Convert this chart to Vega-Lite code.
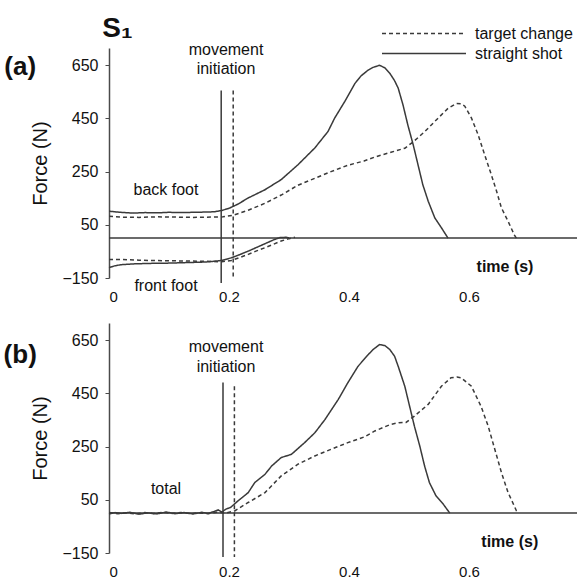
{
  "$schema": "https://vega.github.io/schema/vega-lite/v6.json",
  "padding": {"left": 3, "top": 14, "right": 0, "bottom": 0},
  "bounds": "flush",
  "spacing": 45,
  "config": {
    "font": "Liberation Sans",
    "view": {"stroke": null},
    "axis": {"domainColor": "#4a4a4a", "domainWidth": 1.5, "tickColor": "#4a4a4a", "labelColor": "#111", "titleColor": "#111", "labelFont": "Liberation Sans", "titleFont": "Liberation Sans", "grid": false}
  },
  "resolve": {"scale": {"strokeDash": "independent"}, "legend": {"strokeDash": "independent"}},
  "datasets": {
    "curves_a": [
      {"part": "back", "series": "straight shot", "t": 0, "f": 101},
      {"part": "back", "series": "straight shot", "t": 0.02, "f": 97},
      {"part": "back", "series": "straight shot", "t": 0.04, "f": 94},
      {"part": "back", "series": "straight shot", "t": 0.06, "f": 96},
      {"part": "back", "series": "straight shot", "t": 0.08, "f": 95},
      {"part": "back", "series": "straight shot", "t": 0.1, "f": 97},
      {"part": "back", "series": "straight shot", "t": 0.12, "f": 96},
      {"part": "back", "series": "straight shot", "t": 0.14, "f": 97},
      {"part": "back", "series": "straight shot", "t": 0.16, "f": 98},
      {"part": "back", "series": "straight shot", "t": 0.175, "f": 99},
      {"part": "back", "series": "straight shot", "t": 0.188, "f": 104},
      {"part": "back", "series": "straight shot", "t": 0.2, "f": 112},
      {"part": "back", "series": "straight shot", "t": 0.215, "f": 128},
      {"part": "back", "series": "straight shot", "t": 0.232, "f": 151},
      {"part": "back", "series": "straight shot", "t": 0.26, "f": 182},
      {"part": "back", "series": "straight shot", "t": 0.287, "f": 220},
      {"part": "back", "series": "straight shot", "t": 0.315, "f": 276},
      {"part": "back", "series": "straight shot", "t": 0.343, "f": 339},
      {"part": "back", "series": "straight shot", "t": 0.365, "f": 401},
      {"part": "back", "series": "straight shot", "t": 0.376, "f": 451},
      {"part": "back", "series": "straight shot", "t": 0.393, "f": 514},
      {"part": "back", "series": "straight shot", "t": 0.41, "f": 582},
      {"part": "back", "series": "straight shot", "t": 0.42, "f": 610},
      {"part": "back", "series": "straight shot", "t": 0.432, "f": 632},
      {"part": "back", "series": "straight shot", "t": 0.44, "f": 642},
      {"part": "back", "series": "straight shot", "t": 0.451, "f": 650},
      {"part": "back", "series": "straight shot", "t": 0.46, "f": 640},
      {"part": "back", "series": "straight shot", "t": 0.468, "f": 620},
      {"part": "back", "series": "straight shot", "t": 0.476, "f": 592},
      {"part": "back", "series": "straight shot", "t": 0.482, "f": 564},
      {"part": "back", "series": "straight shot", "t": 0.49, "f": 501},
      {"part": "back", "series": "straight shot", "t": 0.498, "f": 426},
      {"part": "back", "series": "straight shot", "t": 0.507, "f": 351},
      {"part": "back", "series": "straight shot", "t": 0.515, "f": 276},
      {"part": "back", "series": "straight shot", "t": 0.523, "f": 201},
      {"part": "back", "series": "straight shot", "t": 0.532, "f": 139},
      {"part": "back", "series": "straight shot", "t": 0.543, "f": 76},
      {"part": "back", "series": "straight shot", "t": 0.554, "f": 39},
      {"part": "back", "series": "straight shot", "t": 0.565, "f": 0},
      {"part": "back", "series": "target change", "t": 0, "f": 82},
      {"part": "back", "series": "target change", "t": 0.02, "f": 79},
      {"part": "back", "series": "target change", "t": 0.05, "f": 78},
      {"part": "back", "series": "target change", "t": 0.08, "f": 80},
      {"part": "back", "series": "target change", "t": 0.11, "f": 79},
      {"part": "back", "series": "target change", "t": 0.14, "f": 78},
      {"part": "back", "series": "target change", "t": 0.17, "f": 79},
      {"part": "back", "series": "target change", "t": 0.19, "f": 80},
      {"part": "back", "series": "target change", "t": 0.207, "f": 86},
      {"part": "back", "series": "target change", "t": 0.232, "f": 105},
      {"part": "back", "series": "target change", "t": 0.26, "f": 131},
      {"part": "back", "series": "target change", "t": 0.287, "f": 162},
      {"part": "back", "series": "target change", "t": 0.315, "f": 199},
      {"part": "back", "series": "target change", "t": 0.343, "f": 225},
      {"part": "back", "series": "target change", "t": 0.37, "f": 250},
      {"part": "back", "series": "target change", "t": 0.398, "f": 274},
      {"part": "back", "series": "target change", "t": 0.425, "f": 290},
      {"part": "back", "series": "target change", "t": 0.443, "f": 305},
      {"part": "back", "series": "target change", "t": 0.47, "f": 323},
      {"part": "back", "series": "target change", "t": 0.493, "f": 338},
      {"part": "back", "series": "target change", "t": 0.507, "f": 362},
      {"part": "back", "series": "target change", "t": 0.526, "f": 400},
      {"part": "back", "series": "target change", "t": 0.548, "f": 450},
      {"part": "back", "series": "target change", "t": 0.565, "f": 488},
      {"part": "back", "series": "target change", "t": 0.579, "f": 506},
      {"part": "back", "series": "target change", "t": 0.587, "f": 505},
      {"part": "back", "series": "target change", "t": 0.593, "f": 496},
      {"part": "back", "series": "target change", "t": 0.604, "f": 452},
      {"part": "back", "series": "target change", "t": 0.615, "f": 390},
      {"part": "back", "series": "target change", "t": 0.626, "f": 314},
      {"part": "back", "series": "target change", "t": 0.637, "f": 240},
      {"part": "back", "series": "target change", "t": 0.646, "f": 176},
      {"part": "back", "series": "target change", "t": 0.654, "f": 114},
      {"part": "back", "series": "target change", "t": 0.665, "f": 64},
      {"part": "back", "series": "target change", "t": 0.676, "f": 10},
      {"part": "back", "series": "target change", "t": 0.679, "f": 0},
      {"part": "front", "series": "straight shot", "t": 0, "f": -111},
      {"part": "front", "series": "straight shot", "t": 0.01, "f": -104},
      {"part": "front", "series": "straight shot", "t": 0.02, "f": -100},
      {"part": "front", "series": "straight shot", "t": 0.04, "f": -97},
      {"part": "front", "series": "straight shot", "t": 0.07, "f": -95},
      {"part": "front", "series": "straight shot", "t": 0.1, "f": -94},
      {"part": "front", "series": "straight shot", "t": 0.13, "f": -92},
      {"part": "front", "series": "straight shot", "t": 0.16, "f": -90},
      {"part": "front", "series": "straight shot", "t": 0.175, "f": -87},
      {"part": "front", "series": "straight shot", "t": 0.188, "f": -84},
      {"part": "front", "series": "straight shot", "t": 0.204, "f": -74},
      {"part": "front", "series": "straight shot", "t": 0.218, "f": -62},
      {"part": "front", "series": "straight shot", "t": 0.232, "f": -49},
      {"part": "front", "series": "straight shot", "t": 0.246, "f": -35},
      {"part": "front", "series": "straight shot", "t": 0.26, "f": -21},
      {"part": "front", "series": "straight shot", "t": 0.276, "f": -5},
      {"part": "front", "series": "straight shot", "t": 0.285, "f": 2},
      {"part": "front", "series": "straight shot", "t": 0.295, "f": 3},
      {"part": "front", "series": "straight shot", "t": 0.3, "f": 1},
      {"part": "front", "series": "target change", "t": 0, "f": -80},
      {"part": "front", "series": "target change", "t": 0.02, "f": -80},
      {"part": "front", "series": "target change", "t": 0.05, "f": -83},
      {"part": "front", "series": "target change", "t": 0.09, "f": -85},
      {"part": "front", "series": "target change", "t": 0.13, "f": -86},
      {"part": "front", "series": "target change", "t": 0.16, "f": -87},
      {"part": "front", "series": "target change", "t": 0.188, "f": -89},
      {"part": "front", "series": "target change", "t": 0.204, "f": -84},
      {"part": "front", "series": "target change", "t": 0.218, "f": -73},
      {"part": "front", "series": "target change", "t": 0.232, "f": -61},
      {"part": "front", "series": "target change", "t": 0.246, "f": -48},
      {"part": "front", "series": "target change", "t": 0.26, "f": -36},
      {"part": "front", "series": "target change", "t": 0.273, "f": -24},
      {"part": "front", "series": "target change", "t": 0.287, "f": -11},
      {"part": "front", "series": "target change", "t": 0.3, "f": -2},
      {"part": "front", "series": "target change", "t": 0.31, "f": 3}
    ],
    "curves_b": [
      {"part": "total", "series": "straight shot", "t": 0, "f": -3},
      {"part": "total", "series": "straight shot", "t": 0.01, "f": 2},
      {"part": "total", "series": "straight shot", "t": 0.02, "f": -1},
      {"part": "total", "series": "straight shot", "t": 0.035, "f": 3},
      {"part": "total", "series": "straight shot", "t": 0.05, "f": -4},
      {"part": "total", "series": "straight shot", "t": 0.065, "f": 1},
      {"part": "total", "series": "straight shot", "t": 0.08, "f": -3},
      {"part": "total", "series": "straight shot", "t": 0.095, "f": 4},
      {"part": "total", "series": "straight shot", "t": 0.11, "f": -2},
      {"part": "total", "series": "straight shot", "t": 0.125, "f": 2},
      {"part": "total", "series": "straight shot", "t": 0.14, "f": -3},
      {"part": "total", "series": "straight shot", "t": 0.155, "f": 3},
      {"part": "total", "series": "straight shot", "t": 0.165, "f": -1},
      {"part": "total", "series": "straight shot", "t": 0.175, "f": 6},
      {"part": "total", "series": "straight shot", "t": 0.182, "f": 12},
      {"part": "total", "series": "straight shot", "t": 0.188, "f": 4},
      {"part": "total", "series": "straight shot", "t": 0.195, "f": 15},
      {"part": "total", "series": "straight shot", "t": 0.203, "f": 22},
      {"part": "total", "series": "straight shot", "t": 0.215, "f": 46},
      {"part": "total", "series": "straight shot", "t": 0.232, "f": 77},
      {"part": "total", "series": "straight shot", "t": 0.243, "f": 115},
      {"part": "total", "series": "straight shot", "t": 0.26, "f": 146},
      {"part": "total", "series": "straight shot", "t": 0.271, "f": 177},
      {"part": "total", "series": "straight shot", "t": 0.287, "f": 209},
      {"part": "total", "series": "straight shot", "t": 0.304, "f": 221},
      {"part": "total", "series": "straight shot", "t": 0.326, "f": 265},
      {"part": "total", "series": "straight shot", "t": 0.343, "f": 302},
      {"part": "total", "series": "straight shot", "t": 0.36, "f": 352},
      {"part": "total", "series": "straight shot", "t": 0.382, "f": 427},
      {"part": "total", "series": "straight shot", "t": 0.398, "f": 490},
      {"part": "total", "series": "straight shot", "t": 0.415, "f": 552},
      {"part": "total", "series": "straight shot", "t": 0.432, "f": 596},
      {"part": "total", "series": "straight shot", "t": 0.44, "f": 615},
      {"part": "total", "series": "straight shot", "t": 0.451, "f": 634},
      {"part": "total", "series": "straight shot", "t": 0.46, "f": 630},
      {"part": "total", "series": "straight shot", "t": 0.468, "f": 615},
      {"part": "total", "series": "straight shot", "t": 0.476, "f": 590},
      {"part": "total", "series": "straight shot", "t": 0.482, "f": 552},
      {"part": "total", "series": "straight shot", "t": 0.493, "f": 477},
      {"part": "total", "series": "straight shot", "t": 0.501, "f": 402},
      {"part": "total", "series": "straight shot", "t": 0.509, "f": 327},
      {"part": "total", "series": "straight shot", "t": 0.518, "f": 252},
      {"part": "total", "series": "straight shot", "t": 0.526, "f": 177},
      {"part": "total", "series": "straight shot", "t": 0.534, "f": 115},
      {"part": "total", "series": "straight shot", "t": 0.545, "f": 65},
      {"part": "total", "series": "straight shot", "t": 0.557, "f": 34},
      {"part": "total", "series": "straight shot", "t": 0.568, "f": 0},
      {"part": "total", "series": "target change", "t": 0, "f": 2},
      {"part": "total", "series": "target change", "t": 0.015, "f": -2},
      {"part": "total", "series": "target change", "t": 0.03, "f": 1},
      {"part": "total", "series": "target change", "t": 0.045, "f": -3},
      {"part": "total", "series": "target change", "t": 0.06, "f": 2},
      {"part": "total", "series": "target change", "t": 0.075, "f": -2},
      {"part": "total", "series": "target change", "t": 0.09, "f": 3},
      {"part": "total", "series": "target change", "t": 0.105, "f": -1},
      {"part": "total", "series": "target change", "t": 0.12, "f": 2},
      {"part": "total", "series": "target change", "t": 0.135, "f": -2},
      {"part": "total", "series": "target change", "t": 0.15, "f": 1},
      {"part": "total", "series": "target change", "t": 0.165, "f": -2},
      {"part": "total", "series": "target change", "t": 0.18, "f": 3},
      {"part": "total", "series": "target change", "t": 0.195, "f": 0},
      {"part": "total", "series": "target change", "t": 0.21, "f": 9},
      {"part": "total", "series": "target change", "t": 0.232, "f": 40},
      {"part": "total", "series": "target change", "t": 0.26, "f": 77},
      {"part": "total", "series": "target change", "t": 0.287, "f": 140},
      {"part": "total", "series": "target change", "t": 0.315, "f": 184},
      {"part": "total", "series": "target change", "t": 0.343, "f": 215},
      {"part": "total", "series": "target change", "t": 0.37, "f": 240},
      {"part": "total", "series": "target change", "t": 0.398, "f": 265},
      {"part": "total", "series": "target change", "t": 0.426, "f": 287},
      {"part": "total", "series": "target change", "t": 0.443, "f": 309},
      {"part": "total", "series": "target change", "t": 0.47, "f": 334},
      {"part": "total", "series": "target change", "t": 0.483, "f": 340},
      {"part": "total", "series": "target change", "t": 0.495, "f": 341},
      {"part": "total", "series": "target change", "t": 0.509, "f": 365},
      {"part": "total", "series": "target change", "t": 0.532, "f": 409},
      {"part": "total", "series": "target change", "t": 0.554, "f": 477},
      {"part": "total", "series": "target change", "t": 0.57, "f": 509},
      {"part": "total", "series": "target change", "t": 0.58, "f": 512},
      {"part": "total", "series": "target change", "t": 0.587, "f": 509},
      {"part": "total", "series": "target change", "t": 0.604, "f": 477},
      {"part": "total", "series": "target change", "t": 0.62, "f": 402},
      {"part": "total", "series": "target change", "t": 0.632, "f": 327},
      {"part": "total", "series": "target change", "t": 0.643, "f": 240},
      {"part": "total", "series": "target change", "t": 0.654, "f": 153},
      {"part": "total", "series": "target change", "t": 0.665, "f": 78},
      {"part": "total", "series": "target change", "t": 0.679, "f": 9},
      {"part": "total", "series": "target change", "t": 0.681, "f": 0}
    ],
    "onset_a": [
      {"series": "straight shot", "t": 0.187, "f": 555, "f2": -169},
      {"series": "target change", "t": 0.207, "f": 555, "f2": -154}
    ],
    "onset_b": [
      {"series": "straight shot", "t": 0.19, "f": 491, "f2": -165},
      {"series": "target change", "t": 0.209, "f": 477, "f2": -165}
    ],
    "baseline": [
      {"f": 0}
    ],
    "notes_a": [
      {"note": "movement", "t": 0.195, "f": 709, "size": 16, "weight": "normal"},
      {"note": "initiation", "t": 0.195, "f": 637, "size": 16, "weight": "normal"},
      {"note": "back foot", "t": 0.095, "f": 180, "size": 16, "weight": "normal"},
      {"note": "front foot", "t": 0.095, "f": -180, "size": 16, "weight": "normal"},
      {"note": "time (s)", "t": 0.66, "f": -109, "size": 16, "weight": "bold"},
      {"note": "(a)", "t": -0.148, "f": 645, "size": 26, "weight": "bold"},
      {"note": "S₁", "t": 0.014, "f": 787, "size": 28, "weight": "bold"}
    ],
    "notes_b": [
      {"note": "movement", "t": 0.195, "f": 626, "size": 16, "weight": "normal"},
      {"note": "initiation", "t": 0.195, "f": 551, "size": 16, "weight": "normal"},
      {"note": "total", "t": 0.095, "f": 90, "size": 16, "weight": "normal"},
      {"note": "time (s)", "t": 0.668, "f": -110, "size": 16, "weight": "bold"},
      {"note": "(b)", "t": -0.148, "f": 596, "size": 26, "weight": "bold"}
    ]
  },
  "vconcat": [
    {
      "width": 468,
      "height": 230,
      "layer": [
        {
          "data": {"name": "curves_a"},
          "mark": {"type": "line", "color": "#3a3a3a", "strokeWidth": 1.5},
          "encoding": {
            "x": {"field": "t", "type": "quantitative", "scale": {"domain": [0, 0.78], "nice": false},
                  "axis": {"values": [0, 0.2, 0.4, 0.6], "format": ".1~f", "title": null, "domain": false, "ticks": false, "tickSize": 0, "labelPadding": 11, "labelFontSize": 15}},
            "y": {"field": "f", "type": "quantitative", "scale": {"domain": [-150, 715], "nice": false, "zero": false},
                  "axis": {"values": [-150, 50, 250, 450, 650], "title": "Force (N)", "titleFontSize": 20, "titleFontWeight": "normal", "titlePadding": 11, "tickSize": 4, "labelPadding": 7, "labelFontSize": 16}},
            "strokeDash": {"field": "series", "type": "nominal", "scale": {"domain": ["target change", "straight shot"], "range": [[4, 3], [1, 0]]},
                  "legend": {"title": null, "orient": "none", "legendX": 335, "legendY": -26, "padding": 0, "symbolType": "M-7,0H1", "symbolSize": 441, "symbolStrokeWidth": 1.5, "symbolStrokeColor": "#3a3a3a", "labelFontSize": 16, "labelOffset": 8, "labelColor": "#111", "rowPadding": 0, "labelFont": "Liberation Sans"}},
            "detail": {"field": "part"}
          }
        },
        {
          "data": {"name": "onset_a"},
          "mark": {"type": "rule", "color": "#3a3a3a", "strokeWidth": 1.5},
          "encoding": {
            "x": {"field": "t", "type": "quantitative"},
            "y": {"field": "f", "type": "quantitative"},
            "y2": {"field": "f2"},
            "strokeDash": {"field": "series", "type": "nominal"}
          }
        },
        {
          "data": {"name": "baseline"},
          "mark": {"type": "rule", "color": "#3a3a3a", "strokeWidth": 1.5},
          "encoding": {"y": {"field": "f", "type": "quantitative"}}
        },
        {
          "data": {"name": "notes_a"},
          "transform": [{"filter": "datum.weight == 'normal'"}],
          "mark": {"type": "text", "align": "center", "baseline": "middle", "color": "#111"},
          "encoding": {
            "x": {"field": "t", "type": "quantitative"},
            "y": {"field": "f", "type": "quantitative"},
            "text": {"field": "note"},
            "size": {"field": "size", "type": "quantitative", "scale": null}
          }
        },
        {
          "data": {"name": "notes_a"},
          "transform": [{"filter": "datum.weight == 'bold'"}],
          "mark": {"type": "text", "align": "center", "baseline": "middle", "color": "#111", "fontWeight": "bold"},
          "encoding": {
            "x": {"field": "t", "type": "quantitative"},
            "y": {"field": "f", "type": "quantitative"},
            "text": {"field": "note"},
            "size": {"field": "size", "type": "quantitative", "scale": null}
          }
        }
      ]
    },
    {
      "width": 468,
      "height": 230,
      "layer": [
        {
          "data": {"name": "curves_b"},
          "mark": {"type": "line", "color": "#3a3a3a", "strokeWidth": 1.5},
          "encoding": {
            "x": {"field": "t", "type": "quantitative", "scale": {"domain": [0, 0.78], "nice": false},
                  "axis": {"values": [0, 0.2, 0.4, 0.6], "format": ".1~f", "title": null, "domain": false, "ticks": false, "tickSize": 0, "labelPadding": 11, "labelFontSize": 15}},
            "y": {"field": "f", "type": "quantitative", "scale": {"domain": [-150, 715], "nice": false, "zero": false},
                  "axis": {"values": [-150, 50, 250, 450, 650], "title": "Force (N)", "titleFontSize": 20, "titleFontWeight": "normal", "titlePadding": 11, "tickSize": 4, "labelPadding": 7, "labelFontSize": 16}},
            "strokeDash": {"field": "series", "type": "nominal", "scale": {"domain": ["target change", "straight shot"], "range": [[4, 3], [1, 0]]}, "legend": null},
            "detail": {"field": "part"}
          }
        },
        {
          "data": {"name": "onset_b"},
          "mark": {"type": "rule", "color": "#3a3a3a", "strokeWidth": 1.5},
          "encoding": {
            "x": {"field": "t", "type": "quantitative"},
            "y": {"field": "f", "type": "quantitative"},
            "y2": {"field": "f2"},
            "strokeDash": {"field": "series", "type": "nominal", "legend": null}
          }
        },
        {
          "data": {"name": "baseline"},
          "mark": {"type": "rule", "color": "#3a3a3a", "strokeWidth": 1.5},
          "encoding": {"y": {"field": "f", "type": "quantitative"}}
        },
        {
          "data": {"name": "notes_b"},
          "transform": [{"filter": "datum.weight == 'normal'"}],
          "mark": {"type": "text", "align": "center", "baseline": "middle", "color": "#111"},
          "encoding": {
            "x": {"field": "t", "type": "quantitative"},
            "y": {"field": "f", "type": "quantitative"},
            "text": {"field": "note"},
            "size": {"field": "size", "type": "quantitative", "scale": null}
          }
        },
        {
          "data": {"name": "notes_b"},
          "transform": [{"filter": "datum.weight == 'bold'"}],
          "mark": {"type": "text", "align": "center", "baseline": "middle", "color": "#111", "fontWeight": "bold"},
          "encoding": {
            "x": {"field": "t", "type": "quantitative"},
            "y": {"field": "f", "type": "quantitative"},
            "text": {"field": "note"},
            "size": {"field": "size", "type": "quantitative", "scale": null}
          }
        }
      ]
    }
  ]
}
